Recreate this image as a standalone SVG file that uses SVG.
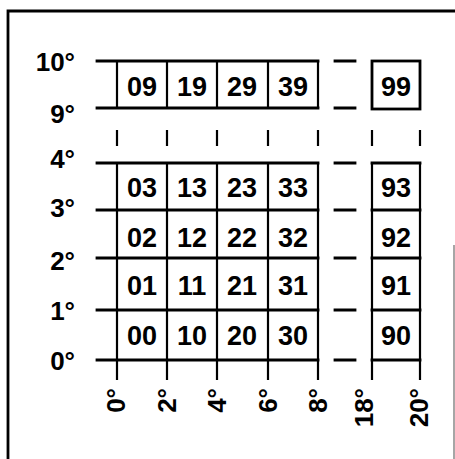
<svg xmlns="http://www.w3.org/2000/svg" width="455" height="459" viewBox="0 0 455 459">
<style>
.ln{stroke:#000;stroke-width:2.8;fill:none;stroke-linecap:square}
.vl{stroke:#000;stroke-width:2.2;fill:none}
.ax{font-family:"Liberation Sans",Arial,sans-serif;font-size:26px;font-weight:bold;fill:#000}
.cell{font-family:"Liberation Sans",Arial,sans-serif;font-size:27px;font-weight:bold;fill:#000;text-anchor:middle}
</style>
<rect width="455" height="459" fill="#fff"/>
<g id="frame">
<path d="M8 459V11H455" class="ln"/>
<path d="M454 245V459" stroke="#888" stroke-width="1.5" fill="none"/>
</g>
<g id="connectors">
<path class="ln" d="M97 61H318M97 108H318"/>
<path class="vl" d="M117 61V108M167 61V108M217 61V108M268 61V108M318 61V108"/>
<path class="vl" d="M117 130V146M167 130V146M217 130V146M268 130V146M318 130V146M372 130V146M420 130V146"/>
<path class="ln" d="M97 163H318M97 210H318M97 258H318M97 310H318M97 360H318"/>
<path class="vl" d="M117 163V380M167 163V380M217 163V380M268 163V380M318 163V380"/>
<path class="ln" d="M335 61H355M335 108H355M335 163H355M335 210H355M335 258H355M335 310H355M335 360H355"/>
<rect x="372" y="61" width="48" height="48" class="ln"/>
<path class="ln" d="M372 163H420M372 210H420M372 258H420M372 310H420M372 360H420"/>
<path class="vl" d="M372 163V380M420 163V380"/>
</g>
<g id="ylabels" class="ax" text-anchor="end">
<text x="75" y="71">10°</text>
<text x="75" y="123">9°</text>
<text x="75" y="168">4°</text>
<text x="75" y="217">3°</text>
<text x="75" y="270">2°</text>
<text x="75" y="320">1°</text>
<text x="75" y="370">0°</text>
</g>
<g id="xlabels" class="ax" text-anchor="end">
<text transform="translate(125,388) rotate(-90)">0°</text>
<text transform="translate(176,388) rotate(-90)">2°</text>
<text transform="translate(226,388) rotate(-90)">4°</text>
<text transform="translate(277,388) rotate(-90)">6°</text>
<text transform="translate(327,388) rotate(-90)">8°</text>
<text transform="translate(373,388) rotate(-90)">18°</text>
<text transform="translate(428,388) rotate(-90)">20°</text>
</g>
<g id="cells" class="cell">
<text x="142" y="96">09</text><text x="192" y="96">19</text><text x="242" y="96">29</text><text x="293" y="96">39</text><text x="396" y="96">99</text>
<text x="142" y="197">03</text><text x="192" y="197">13</text><text x="242" y="197">23</text><text x="293" y="197">33</text><text x="396" y="197">93</text>
<text x="142" y="247">02</text><text x="192" y="247">12</text><text x="242" y="247">22</text><text x="293" y="247">32</text><text x="396" y="247">92</text>
<text x="142" y="295">01</text><text x="192" y="295">11</text><text x="242" y="295">21</text><text x="293" y="295">31</text><text x="396" y="295">91</text>
<text x="142" y="345">00</text><text x="192" y="345">10</text><text x="242" y="345">20</text><text x="293" y="345">30</text><text x="396" y="345">90</text>
</g>
</svg>
